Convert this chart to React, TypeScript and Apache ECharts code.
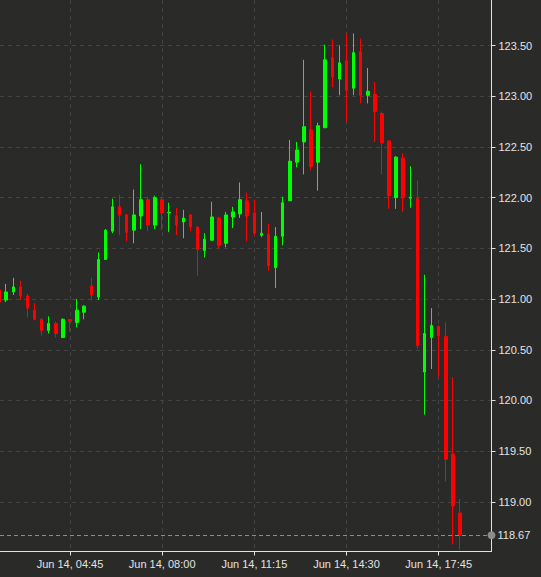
import React, { useEffect, useRef } from "react";
import * as echarts from "echarts";

// 15-minute candles, first one at 02:15 on Jun 14
const startTime = "02:15";
const stepMinutes = 15;

const opens = [
  121.09, 120.99, 121.07, 121.12, 121.03, 120.89, 120.8, 120.69, 120.76, 120.62,
  120.8, 120.77, 120.87, 121.13, 121.02, 121.39, 121.67, 121.91, 121.83, 121.68,
  121.82, 121.98, 121.73, 121.98, 121.85, 121.82, 121.76, 121.83, 121.71, 121.48,
  121.58, 121.8, 121.55, 121.81, 121.84, 121.97, 121.85, 121.63, 121.64, 121.31,
  121.62, 121.97, 122.35, 122.55, 122.67, 122.35, 122.69, 123.38, 123.17, 123.35,
  123.08, 123.44, 123.01, 123.02, 122.83, 122.56, 122.0, 122.39, 121.995, 121.99,
  120.28, 120.62, 120.73, 120.63, 119.47, 118.89,
];
const closes = [
  120.97, 121.07, 121.12, 121.03, 120.91, 120.8, 120.69, 120.76, 120.66, 120.8,
  120.78, 120.89, 120.93, 121.04, 121.39, 121.68, 121.91, 121.83, 121.66, 121.83,
  121.98, 121.73, 122.0, 121.85, 121.855, 121.73, 121.8, 121.71, 121.49, 121.59,
  121.81, 121.53, 121.83, 121.86, 121.98, 121.82, 121.65, 121.65, 121.33, 121.62,
  121.95, 122.36, 122.47, 122.7, 122.31, 122.71, 123.36, 123.19, 123.33, 123.06,
  123.43, 123.01, 123.05, 122.85, 122.54, 122.02, 122.4, 122.0, 122.005, 120.54,
  120.66, 120.74, 120.64, 119.42, 118.96, 118.67,
];
const lows = [
  120.94, 120.97, 121.04, 120.99, 120.82, 120.79, 120.64, 120.66, 120.62, 120.62,
  120.68, 120.72, 120.8, 120.99, 120.99, 121.39, 121.65, 121.63, 121.57, 121.55,
  121.69, 121.67, 121.69, 121.68, 121.66, 121.63, 121.6, 121.67, 121.23, 121.41,
  121.58, 121.5, 121.51, 121.7, 121.8, 121.57, 121.62, 121.61, 121.28, 121.11,
  121.53, 121.97, 122.3, 122.23, 122.27, 122.07, 122.69, 123.09, 123.01, 122.75,
  123.01, 122.93, 122.93, 122.55, 122.23, 121.89, 121.89, 121.86, 121.9, 120.51,
  119.86, 120.31, 120.23, 119.2, 118.58, 118.53,
];
const highs = [
  121.13, 121.15, 121.21, 121.18, 121.05, 120.96, 120.81, 120.83, 120.78, 120.81,
  120.8, 121.0, 120.94, 121.21, 121.46, 121.69, 121.99, 122.03, 121.84, 122.08,
  122.33, 122.01, 122.02, 122.01, 121.95, 121.9, 121.88, 121.84, 121.72, 121.65,
  121.96, 121.81, 121.86, 121.91, 122.15, 122.05, 121.98, 121.86, 121.74, 121.71,
  122.01, 122.57, 122.55, 123.36, 123.05, 122.74, 123.51, 123.56, 123.5, 123.62,
  123.62, 123.57, 123.28, 123.14, 122.85, 122.57, 122.41, 122.44, 122.31, 122.17,
  121.24, 120.91, 120.74, 120.77, 120.23, 119.03,
];

const lastPrice = 118.67;

// axis ticks
const xTickIndexes = [10, 23, 36, 49, 62];
const xTickLabels = [
  "Jun 14, 04:45",
  "Jun 14, 08:00",
  "Jun 14, 11:15",
  "Jun 14, 14:30",
  "Jun 14, 17:45",
];
const yTicks = [119, 119.5, 120, 120.5, 121, 121.5, 122, 122.5, 123, 123.5];

const bg = "#2a2b29";
const textColor = "#e2e2e2";
const gridColor = "#434442";
const up = "#00ff00";
const down = "#ff0000";

function timeAt(i: number) {
  const [h, m] = startTime.split(":").map(Number);
  const t = h * 60 + m + i * stepMinutes;
  return `${String(Math.floor(t / 60)).padStart(2, "0")}:${String(t % 60).padStart(2, "0")}`;
}

function App() {
  const chartRef = useRef<HTMLDivElement>(null);

  useEffect(() => {
    if (!chartRef.current) return;
    const chart = echarts.init(chartRef.current, null, { renderer: "svg" });

    const candles = opens.map((o, i) => ({
      name: timeAt(i),
      value: [i, o, closes[i], lows[i], highs[i]],
    }));

    const options: echarts.EChartsOption = {
      animation: false,
      backgroundColor: bg,
      textStyle: { fontFamily: "Liberation Sans" },
      grid: { left: 0, right: 49.5, top: 0, bottom: 25.5 },
      xAxis: {
        type: "value",
        min: 0.13,
        max: 69.45,
        axisLine: { show: true, lineStyle: { color: textColor, width: 1 } },
        axisTick: {
          show: true,
          length: 4,
          customValues: xTickIndexes,
          lineStyle: { color: textColor },
        },
        axisLabel: {
          customValues: xTickIndexes,
          color: textColor,
          fontSize: 11,
          margin: 7,
          formatter: (v: number) => xTickLabels[xTickIndexes.indexOf(Math.round(v))] ?? "",
        },
        splitLine: {
          show: true,
          lineStyle: { color: gridColor, type: [4, 4], width: 1 },
        },
      },
      yAxis: {
        type: "value",
        position: "right",
        min: 118.51,
        max: 123.95,
        axisLine: { show: true, lineStyle: { color: textColor, width: 1 } },
        axisTick: {
          show: true,
          length: 4,
          customValues: yTicks,
          lineStyle: { color: textColor },
        },
        axisLabel: {
          customValues: yTicks,
          color: textColor,
          fontSize: 11,
          margin: 7,
          formatter: (v: number) => v.toFixed(2),
        },
        splitLine: {
          show: true,
          lineStyle: { color: gridColor, type: [4, 4], width: 1 },
        },
      },
      series: [
        {
          type: "candlestick",
          barWidth: 3,
          data: candles as any,
          itemStyle: {
            color: up,
            color0: down,
            borderColor: up,
            borderColor0: down,
            borderWidth: 1,
          },
          markLine: {
            silent: true,
            symbol: ["none", "circle"],
            symbolSize: 8,
            data: [{ yAxis: lastPrice }],
            lineStyle: { color: "#8c8c8c", type: [4, 3], width: 1 },
            itemStyle: { color: "#8c8c8c" },
            label: {
              show: true,
              position: "end",
              distance: 6,
              formatter: lastPrice.toFixed(2),
              color: textColor,
              fontSize: 11,
              fontFamily: "Liberation Sans",
            },
          },
        },
      ],
    };

    chart.setOption(options);
    return () => {
      chart.dispose();
    };
  }, []);

  return (
    <div
      ref={chartRef}
      style={{ position: "absolute", left: 0, top: 0, width: "541px", height: "577px" }}
    />
  );
}

export default App;
